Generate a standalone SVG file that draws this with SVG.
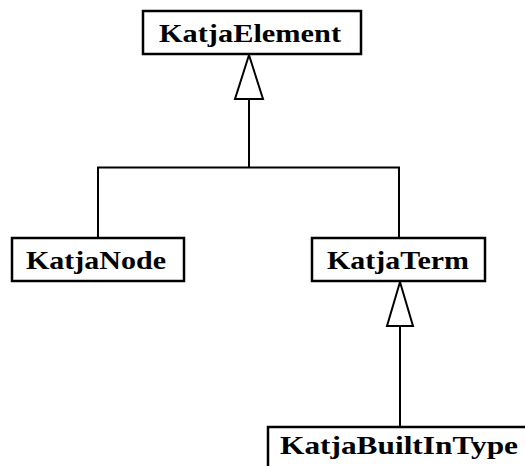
<svg xmlns="http://www.w3.org/2000/svg" width="525" height="466" viewBox="0 0 525 466">
<style>
.box{fill:#fff;stroke:#000;stroke-width:2.5}
.lbl{font-family:"Liberation Serif","DejaVu Serif",serif;font-weight:bold;font-size:25px;fill:#000}
.ln{fill:none;stroke:#000;stroke-width:2}
.tri{fill:#fff;stroke:#000;stroke-width:2}
</style>
<rect width="525" height="466" fill="#fff"/>
<g id="connectors">
<polyline class="ln" points="98,238 98,167.5 399,167.5 399,238"/>
<line class="ln" x1="249" y1="99" x2="249" y2="168"/>
<polygon class="tri" points="249,55 235,99 263,99"/>
<line class="ln" x1="400" y1="326" x2="400" y2="427"/>
<polygon class="tri" points="400,282 387,326 413,326"/>
</g>
<g id="KatjaElement">
<rect class="box" x="143" y="11" width="218" height="43"/>
<text class="lbl" x="159" y="42" textLength="182" lengthAdjust="spacingAndGlyphs">KatjaElement</text>
</g>
<g id="KatjaNode">
<rect class="box" x="12" y="238" width="172" height="43"/>
<text class="lbl" x="26" y="269" textLength="140" lengthAdjust="spacingAndGlyphs">KatjaNode</text>
</g>
<g id="KatjaTerm">
<rect class="box" x="312" y="238" width="173" height="43"/>
<text class="lbl" x="327" y="269" textLength="142" lengthAdjust="spacingAndGlyphs">KatjaTerm</text>
</g>
<g id="KatjaBuiltInType">
<rect class="box" x="268" y="427" width="270" height="50"/>
<text class="lbl" x="280" y="454" textLength="238" lengthAdjust="spacingAndGlyphs">KatjaBuiltInType</text>
</g>
</svg>
